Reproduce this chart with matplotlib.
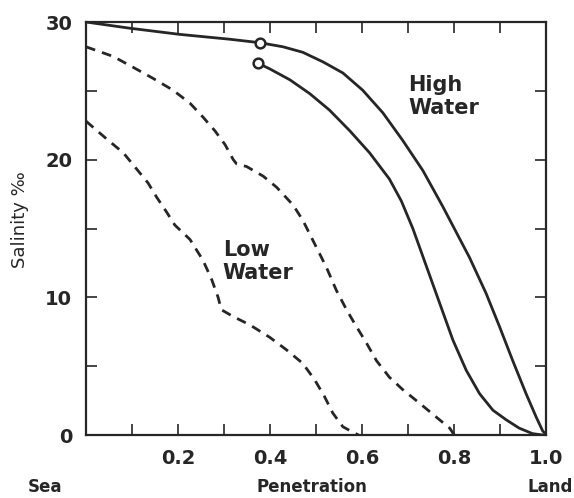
import numpy as np
from matplotlib import pyplot as plt

# high water, upper solid curve (passes through open circle)
hw1_x = [0.0, 0.095, 0.204, 0.312, 0.377, 0.428, 0.471, 0.515, 0.558, 0.601, 0.645, 0.688, 0.732, 0.775,
         0.833, 0.869, 0.898, 0.927, 0.956, 0.978, 0.992, 1.0]
hw1_y = [30.0, 29.55, 29.1, 28.75, 28.5, 28.2, 27.8, 27.1, 26.3, 25.05, 23.4, 21.4, 19.2, 16.6,
         12.9, 10.3, 7.9, 5.4, 3.0, 1.3, 0.3, 0.0]
# high water, lower solid curve (starts at open circle)
hw2_x = [0.374, 0.399, 0.443, 0.486, 0.529, 0.573, 0.616, 0.659, 0.685, 0.710, 0.739, 0.768, 0.797, 0.826,
         0.855, 0.884, 0.913, 0.941, 0.970, 0.992]
hw2_y = [27.0, 26.6, 25.8, 24.8, 23.6, 22.1, 20.5, 18.6, 17.0, 15.0, 12.3, 9.6, 6.9, 4.7,
         3.0, 1.8, 1.1, 0.5, 0.1, 0.0]
# low water, upper dashed
lw1_x = [0.0, 0.059, 0.103, 0.146, 0.189, 0.226, 0.254, 0.280, 0.302, 0.320, 0.327, 0.349, 0.385, 0.414,
         0.450, 0.471, 0.486, 0.504, 0.522, 0.544, 0.566, 0.587, 0.609, 0.631, 0.659, 0.688, 0.725, 0.761,
         0.790, 0.800]
lw1_y = [28.2, 27.5, 26.7, 25.9, 25.05, 24.1, 23.1, 22.1, 21.1, 20.0, 19.7, 19.5, 18.8, 18.0,
         16.7, 15.6, 14.6, 13.4, 12.2, 10.5, 9.1, 7.9, 6.7, 5.4, 4.2, 3.3, 2.3, 1.3,
         0.5, 0.0]
# low water, lower dashed
lw2_x = [0.0, 0.045, 0.081, 0.113, 0.135, 0.153, 0.175, 0.193, 0.226, 0.254, 0.273, 0.287, 0.294, 0.320,
         0.356, 0.399, 0.435, 0.471, 0.497, 0.518, 0.536, 0.558, 0.580, 0.592]
lw2_y = [22.8, 21.5, 20.5, 19.2, 18.3, 17.3, 16.2, 15.25, 14.2, 12.7, 11.3, 10.0, 9.1, 8.6,
         8.0, 7.1, 6.2, 5.2, 4.0, 2.8, 1.6, 0.6, 0.2, 0.0]
circle_x = [0.377, 0.374]
circle_y = [28.5, 27.0]

col = "#262626"
fig = plt.figure(figsize=(5.74, 4.98), dpi=100)
ax = fig.add_axes([0.1498, 0.1265, 0.802, 0.8293])

ax.plot(hw1_x, hw1_y, "-", color=col, linewidth=2, solid_joinstyle="round")
ax.plot(hw2_x, hw2_y, "-", color=col, linewidth=2, solid_joinstyle="round")
l1, = ax.plot(lw1_x, lw1_y, "--", color=col, linewidth=2)
l2, = ax.plot(lw2_x, lw2_y, "--", color=col, linewidth=2)
l1.set_dashes([3.5, 2.6])
l2.set_dashes([3.5, 2.6])
ax.plot(circle_x, circle_y, "o", markersize=7, markerfacecolor="white",
        markeredgecolor=col, markeredgewidth=1.8)

ax.text(0.70, 24.6, "High\nWater", fontsize=15, fontweight="bold", color=col,
        ha="left", va="center", linespacing=1.2)
ax.text(0.297, 12.6, "Low\nWater", fontsize=15, fontweight="bold", color=col,
        ha="left", va="center", linespacing=1.2)

ax.set_xlim([0, 1.0])
ax.set_ylim([0, 30])
ax.set_xticks(np.arange(0, 1.01, 0.1))
ax.set_xticklabels(["", "", "0.2", "", "0.4", "", "0.6", "", "0.8", "", "1.0"])
ax.set_yticks(np.arange(0, 31, 5))
ax.set_yticklabels(["0", "", "10", "", "20", "", "30"])
ax.tick_params(direction="in", length=8, width=1.2, top=True, right=True,
               labelsize=14, colors=col, pad=10)
for lab in ax.get_xticklabels() + ax.get_yticklabels():
    lab.set_fontweight("bold")
for s in ax.spines.values():
    s.set_linewidth(1.6)
    s.set_color(col)

fig.text(20 / 574, 1 - 220 / 498, "Salinity ‰", rotation=90, fontsize=13,
         color=col, ha="center", va="center")
fig.text(45 / 574, 1 - 487 / 498, "Sea", fontsize=12, fontweight="bold", color=col, ha="center", va="center")
fig.text(312 / 574, 1 - 487 / 498, "Penetration", fontsize=12, fontweight="bold", color=col, ha="center", va="center")
fig.text(550 / 574, 1 - 487 / 498, "Land", fontsize=12, fontweight="bold", color=col, ha="center", va="center")

plt.savefig("out.png", dpi=100)
